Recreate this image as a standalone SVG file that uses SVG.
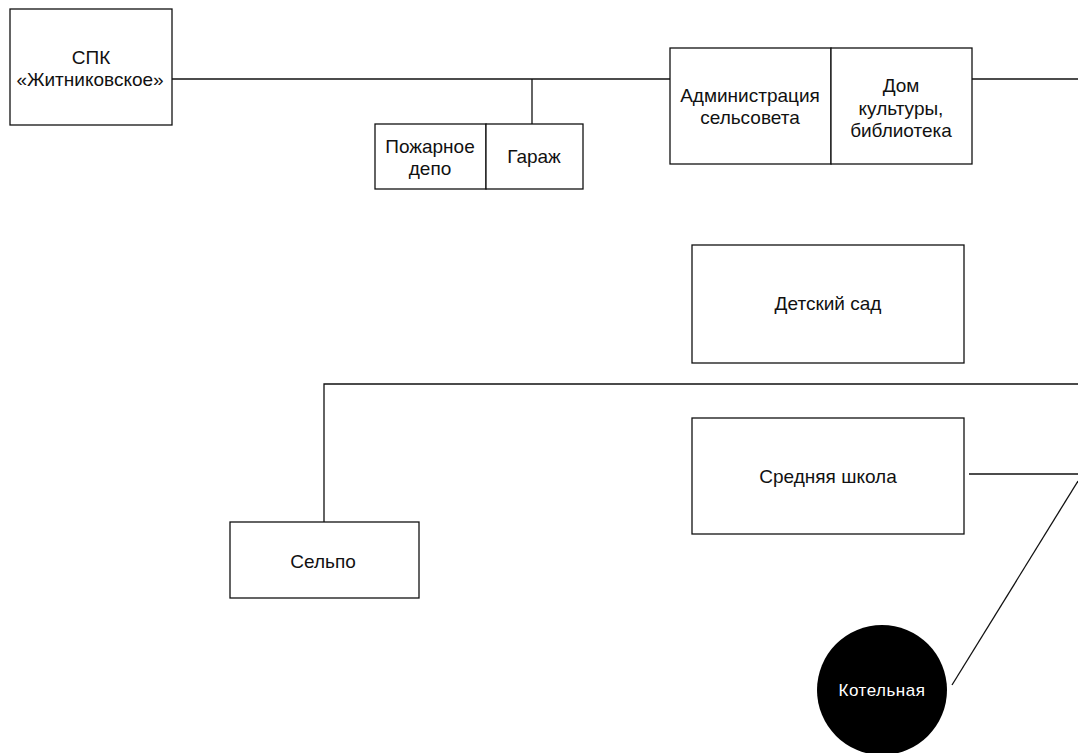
<svg xmlns="http://www.w3.org/2000/svg" width="1078" height="753" viewBox="0 0 1078 753">
  <style>
    .box { fill: #ffffff; stroke: #111111; stroke-width: 1.3; }
    .wire { fill: none; stroke: #111111; stroke-width: 1.3; }
    .lbl { font-family: "Liberation Sans", Arial, sans-serif; font-size: 19px; fill: #111111; text-anchor: middle; }
    .inv { font-family: "Liberation Sans", Arial, sans-serif; font-size: 17px; fill: #ffffff; text-anchor: middle; letter-spacing: 0.5px; }
  </style>
  <rect width="1078" height="753" fill="#ffffff"/>

  <!-- connectors -->
  <g id="connectors">
    <line class="wire" x1="172" y1="79" x2="670" y2="79"/>
    <line class="wire" x1="532" y1="79" x2="532" y2="124"/>
    <line class="wire" x1="972" y1="79" x2="1078" y2="79"/>
    <polyline class="wire" points="324,522 324,384 1078,384"/>
    <line class="wire" x1="969" y1="474" x2="1078" y2="474"/>
    <line class="wire" x1="1078" y1="481" x2="952" y2="685"/>
  </g>

  <g id="spk">
    <rect class="box" x="10" y="9" width="162" height="116"/>
    <text class="lbl" x="91" y="64">СПК</text>
    <text class="lbl" x="90" y="86">«Житниковское»</text>
  </g>

  <g id="fire-depot">
    <rect class="box" x="375" y="124" width="111" height="65"/>
    <text class="lbl" x="430" y="153">Пожарное</text>
    <text class="lbl" x="430" y="175">депо</text>
  </g>

  <g id="garage">
    <rect class="box" x="486" y="124" width="97" height="65"/>
    <text class="lbl" x="534" y="163">Гараж</text>
  </g>

  <g id="administration">
    <rect class="box" x="670" y="48" width="161" height="116"/>
    <text class="lbl" x="750" y="102">Администрация</text>
    <text class="lbl" x="750" y="124">сельсовета</text>
  </g>

  <g id="culture-house">
    <rect class="box" x="831" y="48" width="141" height="116"/>
    <text class="lbl" x="901" y="92">Дом</text>
    <text class="lbl" x="901" y="115">культуры,</text>
    <text class="lbl" x="901" y="137">библиотека</text>
  </g>

  <g id="kindergarten">
    <rect class="box" x="692" y="245" width="272" height="118"/>
    <text class="lbl" x="828" y="310">Детский сад</text>
  </g>

  <g id="school">
    <rect class="box" x="692" y="418" width="272" height="116"/>
    <text class="lbl" x="828" y="483">Средняя школа</text>
  </g>

  <g id="shop">
    <rect class="box" x="230" y="522" width="189" height="76"/>
    <text class="lbl" x="323" y="568">Сельпо</text>
  </g>

  <g id="boiler-house">
    <circle cx="882" cy="690" r="65" fill="#000000"/>
    <text class="inv" x="882" y="696">Котельная</text>
  </g>
</svg>
